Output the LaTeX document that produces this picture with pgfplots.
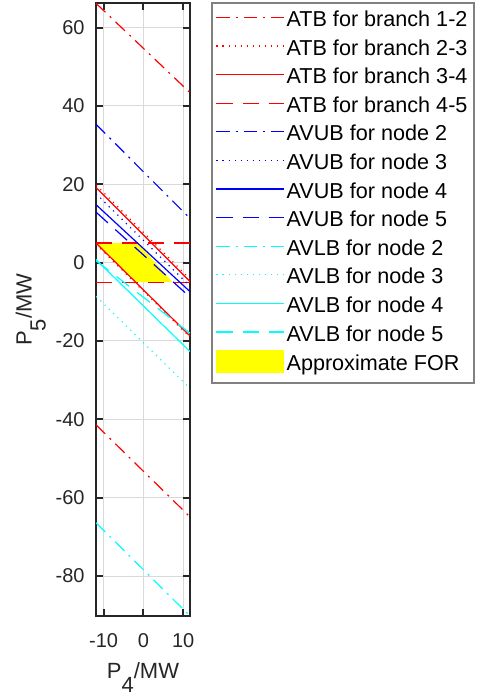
\documentclass[border=0pt]{standalone}
\usepackage{fontspec}
\setmainfont{Liberation Sans}
\usepackage{pgfplots}
\pgfplotsset{compat=1.18}

\definecolor{mred}{rgb}{1,0,0}
\definecolor{mblue}{rgb}{0,0,1}
\definecolor{mcyan}{rgb}{0,1,1}
\definecolor{myellow}{rgb}{1,1,0}

\tikzset{
  mdashdot/.style={dash pattern=on 6.5pt off 3pt on 1pt off 3pt},
  mdot/.style={dash pattern=on 0.6pt off 2.4pt},
  mdash/.style={dash pattern=on 8pt off 5pt},
  msolid/.style={solid},
}
% one legend sample: colour, pattern
\newcommand{\legline}[2]{\addlegendimage{legend image code/.code={%
  \draw[draw=#1, line width=0.6pt, #2] (0pt,1.8pt) -- (33.5pt,1.8pt);}}}

\begin{document}
\begin{tikzpicture}
\useasboundingbox (-48pt,-39.5pt) rectangle (190pt,308pt);
\begin{axis}[
  at={(0,0)}, anchor=south west,
  scale only axis,
  width=47pt, height=306.35pt,
  xmin=-11.93, xmax=11.73,
  ymin=-90.2, ymax=66.2,
  xtick={-10,0,10},
  ytick={-80,-60,-40,-20,0,20,40,60},
  grid=major,
  major grid style={gray!30, line width=0.5pt},
  tick align=inside,
  major tick length=3.5pt,
  axis line style={black!85, line width=1pt},
  every tick/.style={black!85, line width=1pt},
  /pgf/number format/assume math mode=true,
  ticklabel style={font=\fontsize{10}{12}\selectfont, text=black!85},
  xticklabel style={yshift=-5.2pt},
  yticklabel style={xshift=-2.2pt},
  xlabel={P\raisebox{-7pt}{4}/MW},
  ylabel={P\raisebox{-7pt}{5}/MW},
  label style={font=\fontsize{11}{13}\selectfont, text=black!85},
  xlabel style={at={(axis description cs:0.5,-0.1012)}, anchor=base},
  ylabel style={at={(axis description cs:-0.684,0.5)}, anchor=base},
  every axis plot/.append style={line width=0.6pt},
  legend cell align=left,
  legend style={
    name=leg,
    at={(axis description cs:1.234,1.0)}, anchor=north west,
    draw=none, fill=none,
    inner xsep=1.75pt, inner ysep=1.5pt,
    font=\fontsize{10.8}{13}\selectfont,
    row sep=0pt,
    nodes={inner xsep=1.25pt, inner ysep=1.9pt, text height=8pt, text depth=2.5pt},
  },
]
% approximate feasible region
\addplot[forget plot, fill=myellow, draw=none] coordinates {
  (-11.93,5) (-1.3,5) (7.3,-5) (-2.0,-5)
};

% ATB for branch 1-2
\addplot[forget plot, draw=mred, mdashdot] coordinates {(-11.93,66.2) (11.73,43.4)};
\addplot[forget plot, draw=mred, mdashdot] coordinates {(-11.93,-41.4) (11.73,-64.9)};
% ATB for branch 2-3
\addplot[forget plot, draw=mred, mdot] coordinates {(-11.93,19.8) (11.73,-4.2)};
\addplot[forget plot, draw=mred, mdot] coordinates {(-11.93,4.7) (11.73,-19.0)};
% ATB for branch 3-4
\addplot[forget plot, draw=mred] coordinates {(-11.93,19.2) (11.73,-4.8)};
\addplot[forget plot, draw=mred] coordinates {(-11.93,5.0) (11.73,-18.7)};
% ATB for branch 4-5
\addplot[forget plot, draw=mred, mdash] coordinates {(-11.93,5) (11.73,5)};
\addplot[forget plot, draw=mred, mdash] coordinates {(-11.93,-5) (11.73,-5)};

% AVUB for nodes 2-5
\addplot[forget plot, draw=mblue, mdashdot] coordinates {(-11.93,35.3) (11.73,11.3)};
\addplot[forget plot, draw=mblue, mdot] coordinates {(-11.93,17.6) (11.73,-6.0)};
\addplot[forget plot, draw=mblue] coordinates {(-11.93,14.8) (11.73,-7.4)};
\addplot[forget plot, draw=mblue, mdash] coordinates {(-11.93,12.9) (11.73,-8.8)};

% AVLB for nodes 2-5
\addplot[forget plot, draw=mcyan, mdashdot] coordinates {(-11.93,-66.4) (11.73,-90.2)};
\addplot[forget plot, draw=mcyan, mdot] coordinates {(-11.93,-8.6) (11.73,-32.1)};
\addplot[forget plot, draw=mcyan] coordinates {(-11.93,0.8) (11.73,-22.7)};
\addplot[forget plot, draw=mcyan, mdash] coordinates {(-11.93,0.5) (11.73,-18.0)};

\legline{mred}{mdashdot}   \addlegendentry{ATB for branch 1-2}
\legline{mred}{mdot}       \addlegendentry{ATB for branch 2-3}
\legline{mred}{msolid}     \addlegendentry{ATB for branch 3-4}
\legline{mred}{mdash}      \addlegendentry{ATB for branch 4-5}
\legline{mblue}{mdashdot}  \addlegendentry{AVUB for node 2}
\legline{mblue}{mdot}      \addlegendentry{AVUB for node 3}
\legline{mblue}{msolid}    \addlegendentry{AVUB for node 4}
\legline{mblue}{mdash}     \addlegendentry{AVUB for node 5}
\legline{mcyan}{mdashdot}  \addlegendentry{AVLB for node 2}
\legline{mcyan}{mdot}      \addlegendentry{AVLB for node 3}
\legline{mcyan}{msolid}    \addlegendentry{AVLB for node 4}
\legline{mcyan}{mdash}     \addlegendentry{AVLB for node 5}
\addlegendimage{legend image code/.code={\fill[myellow] (0pt,-3.7pt) rectangle (33.5pt,7.3pt);}}
\addlegendentry{Approximate FOR}
\end{axis}
\draw[black!50, line width=0.8pt] (leg.south west) rectangle (leg.north east);
\end{tikzpicture}
\end{document}
